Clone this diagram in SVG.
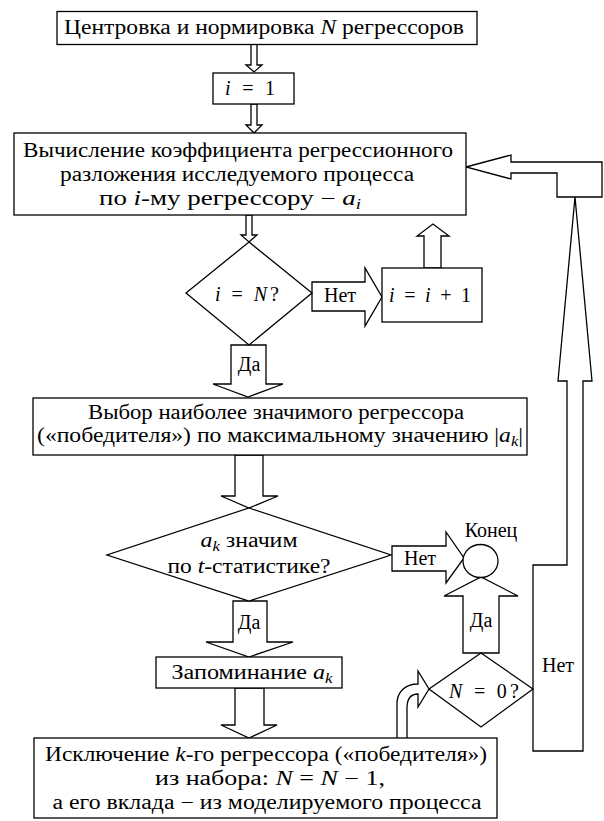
<svg xmlns="http://www.w3.org/2000/svg" width="604" height="821" viewBox="0 0 604 821" font-family="Liberation Serif, serif">
<style>
.b{fill:#fff;stroke:#000;stroke-width:1.3;stroke-linejoin:miter}
.c{fill:#fff;stroke:#000;stroke-width:1.3;stroke-linejoin:miter}
text{font-size:20px;fill:#000;text-anchor:middle}
.i{font-style:italic}
.s{font-style:italic;font-size:14px}
</style>
<rect x="0" y="0" width="604" height="821" fill="#fff"/>
<g id="connectors">
<polygon class="c" points="251,44 257,44 257,65 262,65 254,72 246,65 251,65"/>
<polygon class="c" points="251,104 257,104 257,125 262,125 254,133 246,125 251,125"/>
<polygon class="c" points="246,215 252,215 252,235 257,235 249,242 241,235 246,235"/>
<polygon class="c" points="312,282 365,282 365,268 382,297 365,326 365,311 312,311"/>
<polygon class="c" points="424,268 424,236 417,236 433,224 449,236 441,236 441,268"/>
<polygon class="c" points="231,345 266,345 266,384 283,384 248,397 213,384 231,384"/>
<polygon class="c" points="235,455 263,455 263,496 278,496 249,508 221,496 235,496"/>
<polygon class="c" points="392,546 446,546 446,532 464,558 446,583 446,571 392,571"/>
<polygon class="c" points="233,601 267,601 267,642 293,642 249,657 206,642 233,642"/>
<polygon class="c" points="235,688 264,688 264,725 277,725 249,738 221,725 235,725"/>
<polygon class="c" points="463,653 463,596 444,596 481,577 518,596 499,596 499,653"/>
<path class="c" d="M397,738 L397,704 C397,692 405,684 418,684 L418,671 L429,689 L418,707 L418,694 C411,694 407,699 407,708 L407,738"/>
<polygon class="c" points="533,565 567,565 567,381 558,381 575,197 592,381 583,381 583,751 533,751"/>
<polygon class="c" points="466,167 511,155 511,162 602,162 602,197 557,197 557,173 511,173 511,179"/>
<text font-family="Liberation Serif" x="249" y="371">Да</text>
<text font-family="Liberation Serif" x="340" y="302">Нет</text>
<text font-family="Liberation Serif" x="420" y="565">Нет</text>
<text font-family="Liberation Serif" x="249" y="629">Да</text>
<text font-family="Liberation Serif" x="481" y="627">Да</text>
<text font-family="Liberation Serif" x="558" y="672">Нет</text>
</g>
<g id="n1">
<rect class="b" x="57" y="11.5" width="420" height="33"/>
<text font-family="Liberation Serif" x="264" y="34" textLength="400" lengthAdjust="spacingAndGlyphs">Центровка и нормировка <tspan class="i">N</tspan> регрессоров</text>
</g>
<g id="n2">
<rect class="b" x="213" y="73" width="81" height="31"/>
<text font-family="Liberation Serif" x="250" y="95" textLength="50" lengthAdjust="spacing"><tspan class="i">i</tspan> = 1</text>
</g>
<g id="n3">
<rect class="b" x="14" y="133" width="452" height="82"/>
<text font-family="Liberation Serif" x="238" y="157" textLength="430" lengthAdjust="spacingAndGlyphs">Вычисление коэффициента регрессионного</text>
<text font-family="Liberation Serif" x="237" y="181" textLength="354" lengthAdjust="spacingAndGlyphs">разложения исследуемого процесса</text>
<text font-family="Liberation Serif" x="230" y="205" textLength="262" lengthAdjust="spacingAndGlyphs">по <tspan class="i">i</tspan>-му регрессору − <tspan class="i">a</tspan><tspan class="s" dy="4">i</tspan></text>
</g>
<g id="n4">
<polygon class="b" points="249,242 312,293 249,345 186,293"/>
<text font-family="Liberation Serif" x="247" y="301" textLength="64" lengthAdjust="spacing"><tspan class="i">i</tspan> = <tspan class="i">N</tspan>?</text>
</g>
<g id="n5">
<rect class="b" x="382" y="268" width="100" height="54"/>
<text font-family="Liberation Serif" x="430" y="302" textLength="82" lengthAdjust="spacing"><tspan class="i">i</tspan> = <tspan class="i">i</tspan> + 1</text>
</g>
<g id="n6">
<rect class="b" x="33" y="398" width="494" height="57"/>
<text font-family="Liberation Serif" x="276" y="419" textLength="376" lengthAdjust="spacingAndGlyphs">Выбор наиболее значимого регрессора</text>
<text font-family="Liberation Serif" x="280" y="442" textLength="486" lengthAdjust="spacingAndGlyphs">(«победителя») по максимальному значению |<tspan class="i">a</tspan><tspan class="s" dy="4">k</tspan><tspan dy="-4">|</tspan></text>
</g>
<g id="n7">
<polygon class="b" points="249,508 391,555 249,601 107,555"/>
<text font-family="Liberation Serif" x="249" y="547" textLength="97" lengthAdjust="spacingAndGlyphs"><tspan class="i">a</tspan><tspan class="s" dy="4">k</tspan><tspan dy="-4"> значим</tspan></text>
<text font-family="Liberation Serif" x="249" y="573" textLength="163" lengthAdjust="spacingAndGlyphs">по <tspan class="i">t</tspan>-статистике?</text>
</g>
<g id="n8">
<ellipse class="b" cx="480.5" cy="561" rx="17.5" ry="16.5"/>
<text font-family="Liberation Serif" x="491" y="537">Конец</text>
</g>
<g id="n9">
<rect class="b" x="156" y="657" width="186" height="31"/>
<text font-family="Liberation Serif" x="252" y="679" textLength="161" lengthAdjust="spacingAndGlyphs">Запоминание <tspan class="i">a</tspan><tspan class="s" dy="4">k</tspan></text>
</g>
<g id="n10">
<polygon class="b" points="481,653 533,689 481,727 429,689"/>
<text font-family="Liberation Serif" x="484" y="698" textLength="70" lengthAdjust="spacing"><tspan class="i">N</tspan> = 0?</text>
</g>
<g id="n11">
<rect class="b" x="34" y="738" width="463" height="80"/>
<text font-family="Liberation Serif" x="266" y="761" textLength="442" lengthAdjust="spacingAndGlyphs">Исключение <tspan class="i">k</tspan>-го регрессора («победителя»)</text>
<text font-family="Liberation Serif" x="270" y="785" textLength="230" lengthAdjust="spacingAndGlyphs">из набора: <tspan class="i">N</tspan> = <tspan class="i">N</tspan> − 1,</text>
<text font-family="Liberation Serif" x="267" y="809" textLength="429" lengthAdjust="spacingAndGlyphs">а его вклада − из моделируемого процесса</text>
</g>
</svg>
